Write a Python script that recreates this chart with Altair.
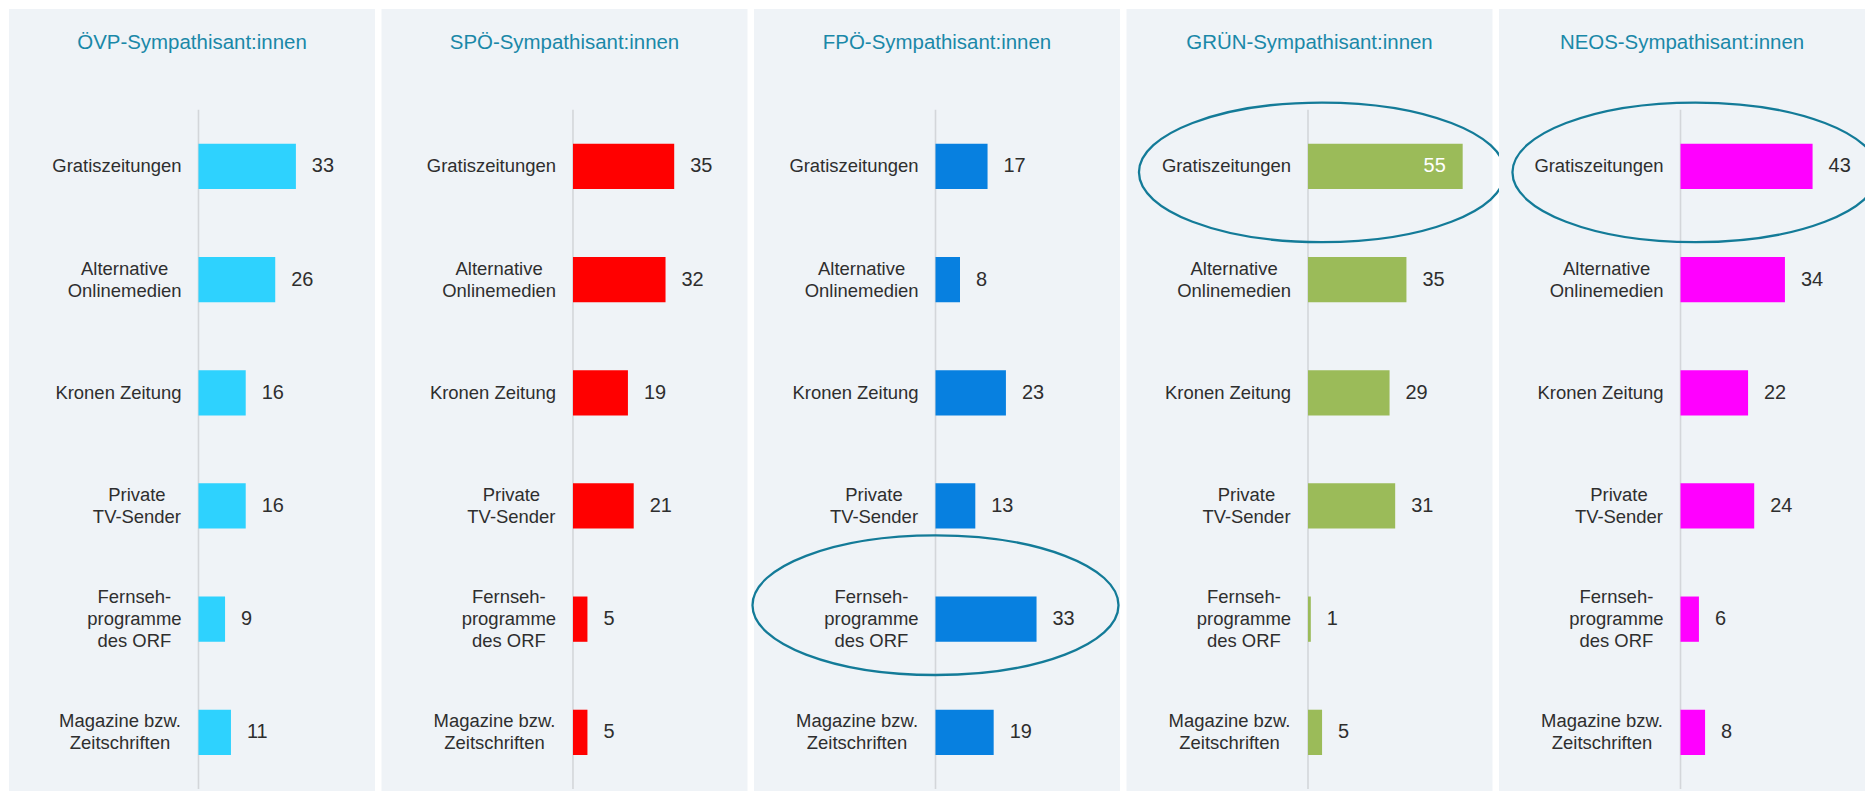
import altair as alt
import pandas as pd

# ---------------- data ----------------
PARTIES = ["ÖVP", "SPÖ", "FPÖ", "GRÜN", "NEOS"]
TITLES = [f"{p}-Sympathisant:innen" for p in PARTIES]
CATEGORIES = [
    "Gratiszeitungen",
    "Alternative\nOnlinemedien",
    "Kronen Zeitung",
    "Private\nTV-Sender",
    "Fernseh-\nprogramme\ndes ORF",
    "Magazine bzw.\nZeitschriften",
]
VALUES_OEVP = [33, 26, 16, 16, 9, 11]
VALUES_SPOE = [35, 32, 19, 21, 5, 5]
VALUES_FPOE = [17, 8, 23, 13, 33, 19]
VALUES_GRUEN = [55, 35, 29, 31, 1, 5]
VALUES_NEOS = [43, 34, 22, 24, 6, 8]
SERIES = [VALUES_OEVP, VALUES_SPOE, VALUES_FPOE, VALUES_GRUEN, VALUES_NEOS]
HIGHLIGHTS = [
    ("FPÖ", "Fernseh-\nprogramme\ndes ORF"),
    ("GRÜN", "Gratiszeitungen"),
    ("NEOS", "Gratiszeitungen"),
]

# ---------------- style ----------------
COLORS = ["#2ed2fe", "#ff0000", "#0780e0", "#9bbb59", "#ff00ff"]
BG = "#eff3f7"
TITLE_COLOR = "#1a88a8"
ELLIPSE_COLOR = "#137b98"
TEXT_COLOR = "#2e2e2e"
FONT = "Liberation Sans"
PANEL_W = 367
PANEL_H = 784
SPACING = 6.5
AXIS_OFFSET = [190, 192, 182, 182, 182]      # px from panel left to axis
PX_PER_UNIT = [2.96, 2.90, 3.07, 2.82, 3.08]
Y0, Y1 = 101, 782                            # band range (px from panel top)
LABEL_FS = 18.5
LABEL_LH = 22
LABEL_GAP = 17
# widest-line width of each category label, in em (Arial metrics)
LABEL_EM = {
    CATEGORIES[0]: 7.003,
    CATEGORIES[1]: 6.169,
    CATEGORIES[2]: 6.837,
    CATEGORIES[3]: 4.835,
    CATEGORIES[4]: 5.112,
    CATEGORIES[5]: 6.669,
}
# ellipse placement tweaks (px) per party
ELLIPSE_STYLE = {
    "FPÖ": dict(xOffset=0, yOffset=-14, clip=False),
    "GRÜN": dict(xOffset=14, yOffset=6, clip=False),
    "NEOS": dict(xOffset=15, yOffset=6, clip=True),
}
ELLIPSE_W = 367
K = 0.5523
B = 140 / ELLIPSE_W
KB = K * B
ELLIPSE_PATH = (
    f"M -1 0 C -1 {-KB:.4f} {-K} {-B:.4f} 0 {-B:.4f} "
    f"C {K} {-B:.4f} 1 {-KB:.4f} 1 0 "
    f"C 1 {KB:.4f} {K} {B:.4f} 0 {B:.4f} "
    f"C {-K} {B:.4f} -1 {KB:.4f} -1 0 Z"
)


def panel(i):
    party = PARTIES[i]
    k = PX_PER_UNIT[i]
    off = AXIS_OFFSET[i]
    xs = alt.Scale(domain=[-off / k, (PANEL_W - off) / k], nice=False, zero=False)
    ys = alt.Scale(domain=CATEGORIES, range=[Y0, Y1], paddingInner=0.6, paddingOuter=0.3)

    df = pd.DataFrame({"category": CATEGORIES, "value": SERIES[i]})
    df["lx"] = [-(LABEL_GAP + LABEL_EM[c] * LABEL_FS / 2) / k for c in CATEGORIES]
    df["nlines"] = [c.count("\n") + 1 for c in CATEGORIES]

    y = alt.Y("category:N", scale=ys, axis=None)
    base = alt.Chart(df)

    title = alt.Chart(pd.DataFrame({"t": [TITLES[i]]})).mark_text(
        font=FONT, fontSize=20.5, color=TITLE_COLOR, align="center", baseline="alphabetic"
    ).encode(x=alt.value(PANEL_W / 2), y=alt.value(40), text="t:N")

    rule = alt.Chart(pd.DataFrame({"z": [0]})).mark_rule(
        color="#d3d6da", strokeWidth=1.6
    ).encode(x=alt.X("z:Q", scale=xs, axis=None), y=alt.value(Y0), y2=alt.value(Y1))

    bars = base.mark_bar(color=COLORS[i]).encode(
        x=alt.X("value:Q", scale=xs, axis=None), x2=alt.datum(0), y=y
    )

    label_layers = []
    for n in sorted(set(df["nlines"])):
        label_layers.append(
            base.transform_filter(f"datum.nlines == {n}").mark_text(
                font=FONT, fontSize=LABEL_FS, lineHeight=LABEL_LH, lineBreak="\n",
                align="center", baseline="middle", color=TEXT_COLOR,
                dy=-(n - 1) * LABEL_LH / 2,
            ).encode(x=alt.X("lx:Q", scale=xs, axis=None), y=y, text="category:N")
        )

    vals_out = base.transform_filter("datum.value < 50").mark_text(
        font=FONT, fontSize=20, align="left", baseline="middle", dx=16, color=TEXT_COLOR
    ).encode(x=alt.X("value:Q", scale=xs, axis=None), y=y, text="value:Q")

    vals_in = base.transform_filter("datum.value >= 50").mark_text(
        font=FONT, fontSize=20, align="right", baseline="middle", dx=-17, color="white"
    ).encode(x=alt.X("value:Q", scale=xs, axis=None), y=y, text="value:Q")

    layers = [title, rule, bars] + label_layers + [vals_out, vals_in]

    hl = [c for p, c in HIGHLIGHTS if p == party]
    if hl:
        st = ELLIPSE_STYLE[party]
        ell = alt.Chart(pd.DataFrame({"category": hl, "z": [0] * len(hl)})).mark_point(
            shape=ELLIPSE_PATH, size=ELLIPSE_W ** 2, filled=False, opacity=1,
            color=ELLIPSE_COLOR, strokeWidth=2.3,
            xOffset=st["xOffset"], yOffset=st["yOffset"], clip=st["clip"],
        ).encode(x=alt.X("z:Q", scale=xs, axis=None), y=y)
        layers.append(ell)

    return alt.layer(*layers).properties(width=PANEL_W, height=PANEL_H)


chart = alt.hconcat(
    *[panel(i) for i in range(len(PARTIES))], spacing=SPACING, bounds="flush"
).properties(
    padding={"left": 1, "top": 0, "right": 0, "bottom": 0}, background="white"
).configure_view(fill=BG, stroke="transparent", strokeWidth=0)

chart.save("out.html", embed_options={"renderer": "svg", "actions": False})
